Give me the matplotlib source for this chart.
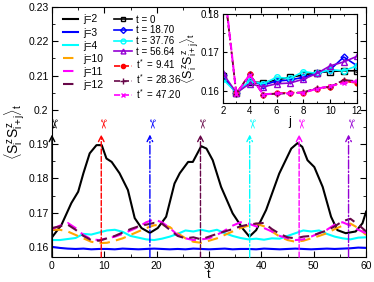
import numpy as np
import matplotlib
matplotlib.use("Agg")
import matplotlib.pyplot as plt
from matplotlib.lines import Line2D
from matplotlib.ticker import MultipleLocator

plt.rcParams['font.family'] = ['Liberation Sans', 'DejaVu Sans']
plt.rcParams['mathtext.fontset'] = 'custom'
plt.rcParams['mathtext.rm'] = 'Liberation Sans'
plt.rcParams['mathtext.it'] = 'Liberation Sans'

# ---- main panel data ----
t_j2 = [0, 1.8, 3.7, 5.0, 6.0, 7.2, 8.5, 9.5, 10.4, 11.4, 12.9, 14.5, 15.8, 17.1, 18.7,
        20.2, 21.8, 23.4, 24.4, 26.0, 26.9, 28.5, 29.5, 30.7, 32.3, 34.5, 36.4, 37.7,
        39.0, 40.9, 43.4, 45.7, 46.9, 47.8, 48.8, 50.1, 51.7, 53.3, 54.5, 56.1, 58.0,
        59.3, 60]
j2 = [0.1628, 0.1664, 0.1728, 0.1761, 0.1815, 0.1873, 0.1897, 0.1897, 0.1858, 0.1848,
      0.1815, 0.1766, 0.1684, 0.1655, 0.1641, 0.1655, 0.1688, 0.1785, 0.1815, 0.1848,
      0.1848, 0.1894, 0.1887, 0.1853, 0.1775, 0.1698, 0.1654, 0.1630, 0.1649, 0.1708,
      0.1814, 0.1887, 0.1903, 0.1892, 0.1853, 0.1833, 0.1775, 0.1688, 0.1649, 0.1640,
      0.1645, 0.1669, 0.1703]

t = np.arange(0, 60.01, 1.5)
j3 = [0.1600, 0.1597, 0.1595, 0.1594, 0.1595, 0.1593, 0.1594, 0.1594, 0.1593, 0.1595,
      0.1594, 0.1593, 0.1594, 0.1595, 0.1594, 0.1593, 0.1594, 0.1593, 0.1595, 0.1594,
      0.1593, 0.1594, 0.1595, 0.1593, 0.1594, 0.1594, 0.1593, 0.1595, 0.1594, 0.1593,
      0.1594, 0.1595, 0.1594, 0.1593, 0.1594, 0.1595, 0.1594, 0.1595, 0.1596, 0.1598,
      0.1597]
j4 = [0.1620, 0.1620, 0.1623, 0.1626, 0.1638, 0.1636, 0.1642, 0.1648, 0.1650, 0.1644,
      0.1632, 0.1627, 0.1622, 0.1620, 0.1624, 0.1630, 0.1638, 0.1648, 0.1645, 0.1650,
      0.1645, 0.1650, 0.1640, 0.1632, 0.1626, 0.1622, 0.1624, 0.1621, 0.1625, 0.1624,
      0.1632, 0.1640, 0.1648, 0.1645, 0.1648, 0.1638, 0.1630, 0.1625, 0.1622, 0.1627,
      0.1628]
j10 = [0.1650, 0.1650, 0.1645, 0.1635, 0.1625, 0.1615, 0.1611, 0.1612, 0.1618, 0.1625,
       0.1635, 0.1645, 0.1655, 0.1663, 0.1665, 0.1658, 0.1640, 0.1625, 0.1615, 0.1612,
       0.1618, 0.1625, 0.1635, 0.1645, 0.1655, 0.1662, 0.1668, 0.1660, 0.1645, 0.1630,
       0.1620, 0.1615, 0.1618, 0.1625, 0.1632, 0.1640, 0.1652, 0.1662, 0.1668, 0.1655,
       0.1635]
j11 = [0.1652, 0.1662, 0.1670, 0.1655, 0.1635, 0.1622, 0.1620, 0.1625, 0.1630, 0.1638,
       0.1648, 0.1658, 0.1672, 0.1680, 0.1672, 0.1655, 0.1635, 0.1625, 0.1620, 0.1622,
       0.1625, 0.1635, 0.1648, 0.1662, 0.1672, 0.1668, 0.1660, 0.1655, 0.1645, 0.1632,
       0.1625, 0.1620, 0.1622, 0.1630, 0.1640, 0.1650, 0.1665, 0.1672, 0.1662, 0.1650,
       0.1640]
j12 = [0.1655, 0.1660, 0.1665, 0.1650, 0.1632, 0.1620, 0.1618, 0.1625, 0.1632, 0.1642,
       0.1652, 0.1660, 0.1665, 0.1670, 0.1668, 0.1650, 0.1632, 0.1625, 0.1628, 0.1622,
       0.1630, 0.1638, 0.1645, 0.1652, 0.1660, 0.1665, 0.1668, 0.1670, 0.1652, 0.1638,
       0.1628, 0.1625, 0.1630, 0.1632, 0.1640, 0.1648, 0.1660, 0.1675, 0.1682, 0.1665,
       0.1645]

# marked times (vertical arrows)
mark_times = [0, 9.41, 18.70, 28.36, 37.76, 47.20, 56.64]

# ---- inset data ----
j_sites = [2, 3, 4, 5, 6, 7, 8, 9, 10, 11, 12]
c_t0 = [0.1638, 0.1593, 0.1623, 0.1621, 0.1628, 0.1635, 0.1641, 0.1647, 0.1650, 0.1652, 0.1652]
c_t1870 = [0.1640, 0.1593, 0.1625, 0.1615, 0.1625, 0.1628, 0.1635, 0.1645, 0.1655, 0.1688, 0.1665]
c_t3776 = [0.1630, 0.1595, 0.1625, 0.1618, 0.1635, 0.1632, 0.1650, 0.1645, 0.1655, 0.1652, 0.1665]
c_t5664 = [0.1645, 0.1595, 0.1618, 0.1610, 0.1618, 0.1620, 0.1630, 0.1645, 0.1665, 0.1675, 0.1690]
c_s941 = [0.1897, 0.1593, 0.1643, 0.1590, 0.1593, 0.1595, 0.1595, 0.1605, 0.1610, 0.1625, 0.1620]
c_s2836 = [0.1894, 0.1592, 0.1643, 0.1590, 0.1592, 0.1593, 0.1596, 0.1607, 0.1610, 0.1628, 0.1625]
c_s4720 = [0.1903, 0.1592, 0.1642, 0.1590, 0.1593, 0.1593, 0.1595, 0.1605, 0.1612, 0.1620, 0.1625]

maroon = '#670748'
violet = '#9400d3'

fig = plt.figure(figsize=(3.74, 2.82), dpi=100)
ax = fig.add_axes([0.139, 0.088, 0.840, 0.887])

ax.plot(t_j2, j2, color='black', lw=1.5, label='j=2')
ax.plot(t, j3, color='blue', lw=1.5, label='j=3')
ax.plot(t, j4, color='cyan', lw=1.5, label='j=4')
ax.plot(t, j10, color='orange', lw=1.5, ls=(0, (5, 3)), label='j=10')
ax.plot(t, j11, color='magenta', lw=1.5, ls=(0, (5, 3)), label='j=11')
ax.plot(t, j12, color=maroon, lw=1.5, ls=(0, (5, 3)), label='j=12')

mark_colors = ['black', 'red', 'blue', maroon, 'cyan', 'magenta', violet]
mark_styles = ['-', '--', '-.', '--', '-.', '--', '-.']
for tm, c, s in zip(mark_times, mark_colors, mark_styles):
    ax.annotate('', xy=(tm, 0.1928), xytext=(tm, 0.157),
                arrowprops=dict(arrowstyle='->', color=c, lw=1.0, ls=s,
                                shrinkA=0, shrinkB=0, mutation_scale=10))
    ax.text(tm, 0.1960, '\u2702', color=c, fontsize=9, rotation=-90,
            ha='center', va='center', family='DejaVu Sans')

ax.set_xlim(0, 60)
ax.set_ylim(0.157, 0.23)
ax.xaxis.set_major_locator(MultipleLocator(10))
ax.xaxis.set_minor_locator(MultipleLocator(5))
ax.set_yticks([0.16, 0.17, 0.18, 0.19, 0.2, 0.21, 0.22, 0.23])
ax.set_yticklabels(['0.16', '0.17', '0.18', '0.19', '0.2', '0.21', '0.22', '0.23'])
ax.yaxis.set_minor_locator(MultipleLocator(0.005))
ax.tick_params(which='both', direction='in', top=True, right=True, labelsize=7.5, pad=2.5)
ax.tick_params(which='major', length=4)
ax.tick_params(which='minor', length=2)
ax.set_xlabel('t', fontsize=9, labelpad=-1)
ax.set_ylabel(r'$\langle S^z_i S^z_{i+j}\rangle_t$', fontsize=10, labelpad=1)

leg1 = ax.legend(loc='upper left', bbox_to_anchor=(0.006, 1.008), frameon=False,
                 fontsize=7.5, handlelength=1.4, labelspacing=0.3, handletextpad=0.5)
ax.add_artist(leg1)

h2 = [
    Line2D([], [], color='black', marker='s', mfc='none', ms=3.5, lw=1.2, label='t = 0'),
    Line2D([], [], color='blue', marker='D', mfc='none', ms=3, lw=1.2, label='t = 18.70'),
    Line2D([], [], color='cyan', marker='o', mfc='none', ms=3.5, lw=1.2, label='t = 37.76'),
    Line2D([], [], color=violet, marker='^', mfc='none', ms=3.5, lw=1.2, label='t = 56.64'),
    Line2D([], [], color='red', marker='o', ms=3, lw=1.2, ls='--', label=r't$^*$ = 9.41'),
    Line2D([], [], color=maroon, marker='+', ms=4.5, lw=1.2, ls='--', label=r't$^*$ = 28.36'),
    Line2D([], [], color='magenta', marker='x', ms=3, lw=1.2, ls='--', label=r't$^*$ = 47.20'),
]
ax.legend(handles=h2, loc='upper left', bbox_to_anchor=(0.17, 1.005), frameon=False,
          fontsize=7, handlelength=1.8, labelspacing=0.08, handletextpad=0.4)

# ---- inset ----
axin = fig.add_axes([0.596, 0.635, 0.359, 0.315])
axin.plot(j_sites, c_t0, color='black', marker='s', mfc='none', ms=4, lw=1.2)
axin.plot(j_sites, c_t1870, color='blue', marker='D', mfc='none', ms=3.5, lw=1.2)
axin.plot(j_sites, c_t3776, color='cyan', marker='o', mfc='none', ms=4, lw=1.2)
axin.plot(j_sites, c_t5664, color=violet, marker='^', mfc='none', ms=4, lw=1.2)
axin.plot(j_sites, c_s941, color='red', marker='o', ms=3.5, lw=1.2, ls='--')
axin.plot(j_sites, c_s2836, color=maroon, marker='+', ms=5, lw=1.2, ls='--')
axin.plot(j_sites, c_s4720, color='magenta', marker='x', ms=3.5, lw=1.5, ls='--')
axin.set_xlim(2, 12)
axin.set_ylim(0.1568, 0.18)
axin.xaxis.set_major_locator(MultipleLocator(2))
axin.xaxis.set_minor_locator(MultipleLocator(1))
axin.set_yticks([0.16, 0.17, 0.18])
axin.yaxis.set_minor_locator(MultipleLocator(0.005))
axin.tick_params(which='both', direction='in', top=True, right=True, labelsize=7, pad=2.5)
axin.tick_params(which='major', length=3)
axin.tick_params(which='minor', length=1.5)
axin.set_xlabel('j', fontsize=9, labelpad=0)
axin.set_ylabel(r'$\langle S^z_i S^z_{i+j}\rangle_t$', fontsize=9, labelpad=-0.5)

fig.savefig('out.png', dpi=100)
